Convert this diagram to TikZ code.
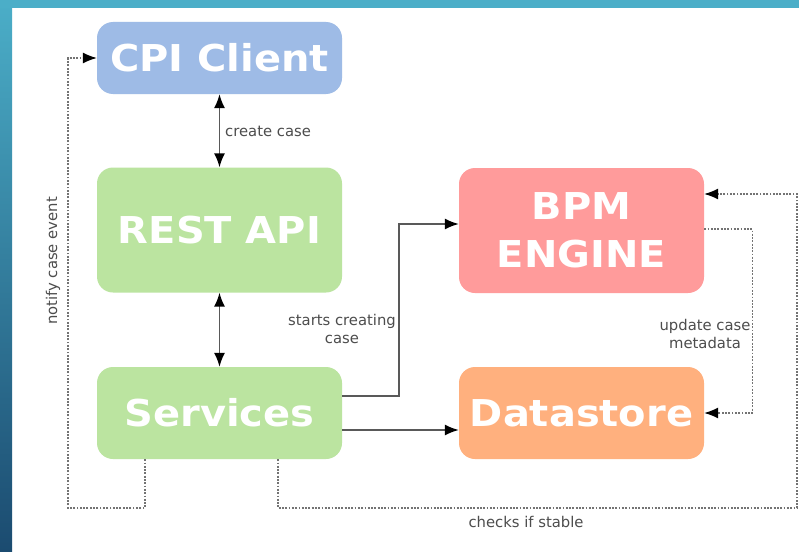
\documentclass[tikz,border=0pt]{standalone}
\usepackage{fontspec}
\setmainfont{DejaVu Sans}
\newfontfamily\boxfont[FakeStretch=1.08]{DejaVu Sans}
\usetikzlibrary{arrows.meta,calc}

\definecolor{clientblue}{HTML}{9EBBE6}
\definecolor{apigreen}{HTML}{BBE4A0}
\definecolor{bpmred}{HTML}{FF9B9B}
\definecolor{storeorange}{HTML}{FFB07E}
\definecolor{stripTop}{HTML}{4BAEC8}
\definecolor{stripBot}{HTML}{1B4B70}
\definecolor{labelgray}{HTML}{4D4D4D}

\begin{document}
\begin{tikzpicture}[x=1pt,y=-1pt,
  box/.style={rounded corners=16pt,minimum width=245pt,text=white,
    font=\boxfont\bfseries\fontsize{37}{48}\selectfont,align=center,inner sep=0pt},
  solid link/.style={draw=black!65,line width=1.5pt},
  dot link/.style={draw=black!55,line width=1.2pt,dash pattern=on 1.8pt off 1.5pt},
  tip/.style={-{Latex[length=14pt,width=11pt,black]}},
  tips/.style={{Latex[length=14pt,width=11pt,black]}-{Latex[length=14pt,width=11pt,black]}},
  lbl/.style={text=labelgray,font=\fontsize{14.8}{18}\selectfont,align=center,inner sep=0pt}]

\useasboundingbox (0,0) rectangle (799,551);
\fill[white] (0,0) rectangle (799,551);
\shade[top color=stripTop,bottom color=stripBot] (0,0) rectangle (12,551);
\fill[stripTop] (0,0) rectangle (799,8);

\node[box,fill=clientblue,minimum height=72pt] (cpi) at (219.5,58) {CPI Client};
\node[box,fill=apigreen,minimum height=125pt] (rest) at (219.5,230) {REST API};
\node[box,fill=apigreen,minimum height=92pt] (services) at (219.5,413) {Services};
\node[box,fill=bpmred,minimum height=125pt] (bpm) at (581.5,230.5) {BPM\\ENGINE};
\node[box,fill=storeorange,minimum height=92pt] (store) at (581.5,413) {Datastore};

\coordinate (lb) at (68,508);
\coordinate (rb) at (797,508);

\draw[solid link,tips] (cpi) -- (rest);
\draw[solid link,tips] (rest) -- (services);
\draw[solid link,tip] ([yshift=17pt]services.east) -- ++(57,0) |- ([yshift=6.5pt]bpm.west);
\draw[solid link,tip] ([yshift=-17pt]services.east) -- ([yshift=-17pt]store.west);

\draw[dot link,tip] ([yshift=1.5pt]bpm.east) -- ++(48,0) |- (store.east);
\draw[dot link,tip] ([xshift=58.5pt]services.south) |- (rb) |- ([yshift=36.5pt]bpm.east);
\draw[dot link,tip] ([xshift=-74.5pt]services.south) |- (lb) |- (cpi.west);

\node[lbl,anchor=west] (lcreate) at (225,131) {create case};
\node[lbl] (lstart) at (342,329) {starts creating\\case};
\node[lbl] (lupdate) at (705,334) {update case\\metadata};
\node[lbl] (lcheck) at (526,522) {checks if stable};
\node[lbl,rotate=90] (lnotify) at (53,261) {notify case event};

\end{tikzpicture}
\end{document}
